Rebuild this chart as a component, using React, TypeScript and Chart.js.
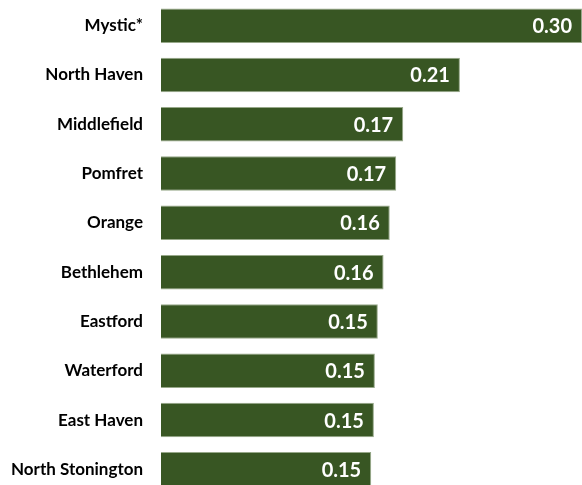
import React, { useEffect, useRef } from "react";
import { Chart, registerables } from "chart.js";

Chart.register(...registerables);

const towns = [
  "Mystic*",
  "North Haven",
  "Middlefield",
  "Pomfret",
  "Orange",
  "Bethlehem",
  "Eastford",
  "Waterford",
  "East Haven",
  "North Stonington",
];
const values = [0.3, 0.213, 0.1726, 0.1676, 0.163, 0.1586, 0.1545, 0.1524, 0.1517, 0.1498];
const valueLabels = values.map((v) => v.toFixed(2));

const barLabelPlugin = {
  id: "barLabels",
  afterDatasetsDraw(chart: any) {
    const ctx = chart.ctx;
    const meta = chart.getDatasetMeta(0);
    ctx.save();
    ctx.fillStyle = "#ffffff";
    ctx.font = "bold 20px Lato";
    ctx.textAlign = "right";
    ctx.textBaseline = "middle";
    meta.data.forEach((bar: any, i: number) => {
      const x = Math.min(bar.x - 10, chart.chartArea.right - 6);
      ctx.fillText(valueLabels[i], x, bar.y + 1);
    });
    ctx.restore();
  },
};

export default function App() {
  const ref = useRef<HTMLCanvasElement>(null);
  useEffect(() => {
    document.body.style.margin = "0";
    const chart = new Chart(ref.current!, {
      type: "bar",
      data: {
        labels: towns,
        datasets: [
          {
            data: values,
            backgroundColor: "#385623",
            borderColor: "#97a889",
            borderWidth: 1,
            barPercentage: 0.7,
            categoryPercentage: 1,
          },
        ],
      },
      options: {
        indexAxis: "y",
        responsive: false,
        animation: false,
        layout: { padding: { top: 1, right: 0, bottom: 0, left: 0 } },
        plugins: { legend: { display: false }, tooltip: { enabled: false } },
        scales: {
          x: { display: false, min: 0, max: 0.3 },
          y: {
            grid: { display: false, drawTicks: false },
            border: { display: false },
            ticks: {
              color: "#000000",
              padding: 18,
              font: { family: "Lato", weight: "bold", size: 17 },
            },
            afterFit: (scale: any) => {
              scale.width = 161;
              scale.paddingTop = 0;
              scale.paddingBottom = 0;
            },
          },
        },
      },
      plugins: [barLabelPlugin],
    });
    return () => chart.destroy();
  }, []);
  return (
    <div style={{ width: 582, height: 485, overflow: "hidden", background: "#fff" }}>
      <canvas ref={ref} width={582} height={494} />
    </div>
  );
}
